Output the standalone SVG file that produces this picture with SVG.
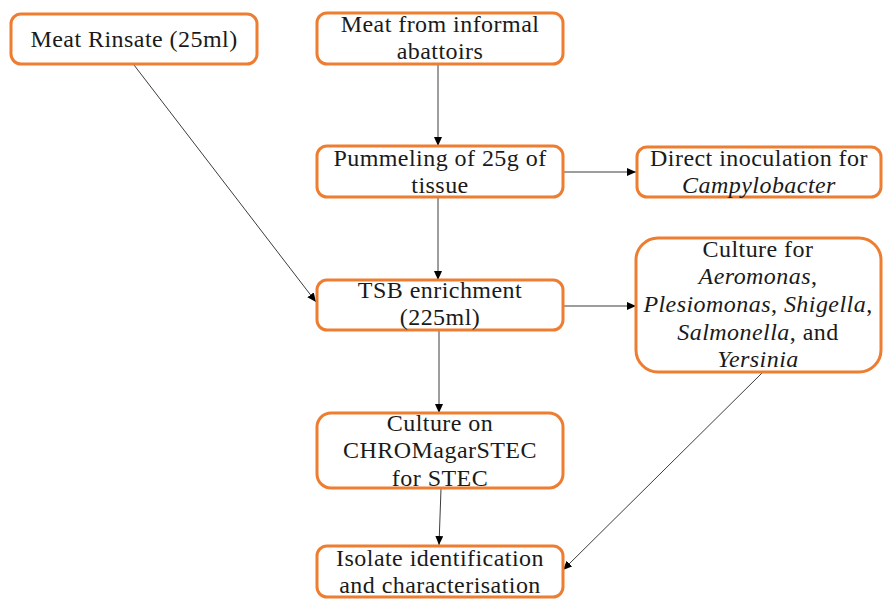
<svg xmlns="http://www.w3.org/2000/svg" width="883" height="602" viewBox="0 0 883 602">
  <style>
    .box { fill: #ffffff; stroke: #ED7D31; stroke-width: 3; }
    .lbl { font-family: "Liberation Serif", "Times New Roman", serif; font-size: 24px; letter-spacing: 0.45px; fill: #1a1a1a; text-anchor: middle; }
    .it { font-style: italic; }
    .wire { stroke: #3c3c3c; stroke-width: 1; fill: none; marker-end: url(#head); }
  </style>
  <defs>
    <marker id="head" markerUnits="userSpaceOnUse" markerWidth="9" markerHeight="8" refX="9" refY="4" orient="auto">
      <path d="M0,0 L9,4 L0,8 z" fill="#000000"/>
    </marker>
  </defs>

  <!-- connectors -->
  <g id="connectors">
    <line class="wire" x1="134" y1="65" x2="316" y2="302"/>
    <line class="wire" x1="438" y1="65" x2="438" y2="146"/>
    <line class="wire" x1="563" y1="172" x2="636" y2="172"/>
    <line class="wire" x1="438" y1="198" x2="438" y2="280"/>
    <line class="wire" x1="563" y1="306" x2="636" y2="306"/>
    <line class="wire" x1="439" y1="331" x2="439" y2="413"/>
    <line class="wire" x1="441" y1="489" x2="439" y2="545"/>
    <line class="wire" x1="762" y1="373" x2="563" y2="570"/>
  </g>

  <g id="meat-rinsate">
    <rect class="box" x="11" y="14" width="246" height="50" rx="10"/>
    <text class="lbl" x="134" y="47">Meat Rinsate (25ml)</text>
  </g>

  <g id="meat-abattoirs">
    <rect class="box" x="317" y="13" width="246" height="51" rx="10"/>
    <text class="lbl" x="440" y="32">Meat from informal</text>
    <text class="lbl" x="440" y="59">abattoirs</text>
  </g>

  <g id="pummeling">
    <rect class="box" x="317" y="146" width="246" height="51" rx="10"/>
    <text class="lbl" x="440" y="166">Pummeling of 25g of</text>
    <text class="lbl" x="440" y="193">tissue</text>
  </g>

  <g id="direct-inoculation">
    <rect class="box" x="637" y="147" width="244" height="50" rx="10"/>
    <text class="lbl" x="759" y="166">Direct inoculation for</text>
    <text class="lbl it" x="759" y="193">Campylobacter</text>
  </g>

  <g id="tsb-enrichment">
    <rect class="box" x="317" y="280" width="246" height="50" rx="10"/>
    <text class="lbl" x="440" y="298">TSB enrichment</text>
    <text class="lbl" x="440" y="325">(225ml)</text>
  </g>

  <g id="culture-enteric">
    <rect class="box" x="636" y="238" width="245" height="134" rx="22"/>
    <text class="lbl" x="758" y="257">Culture for</text>
    <text class="lbl" x="758" y="284"><tspan class="it">Aeromonas</tspan>,</text>
    <text class="lbl" x="758" y="312"><tspan class="it">Plesiomonas</tspan>, <tspan class="it">Shigella</tspan>,</text>
    <text class="lbl" x="758" y="340"><tspan class="it">Salmonella</tspan>, and</text>
    <text class="lbl it" x="758" y="367">Yersinia</text>
  </g>

  <g id="culture-stec">
    <rect class="box" x="317" y="413" width="246" height="75" rx="14"/>
    <text class="lbl" x="440" y="431">Culture on</text>
    <text class="lbl" x="440" y="458">CHROMagarSTEC</text>
    <text class="lbl" x="440" y="486">for STEC</text>
  </g>

  <g id="isolate-identification">
    <rect class="box" x="317" y="546" width="246" height="51" rx="10"/>
    <text class="lbl" x="440" y="566">Isolate identification</text>
    <text class="lbl" x="440" y="593">and characterisation</text>
  </g>
</svg>
